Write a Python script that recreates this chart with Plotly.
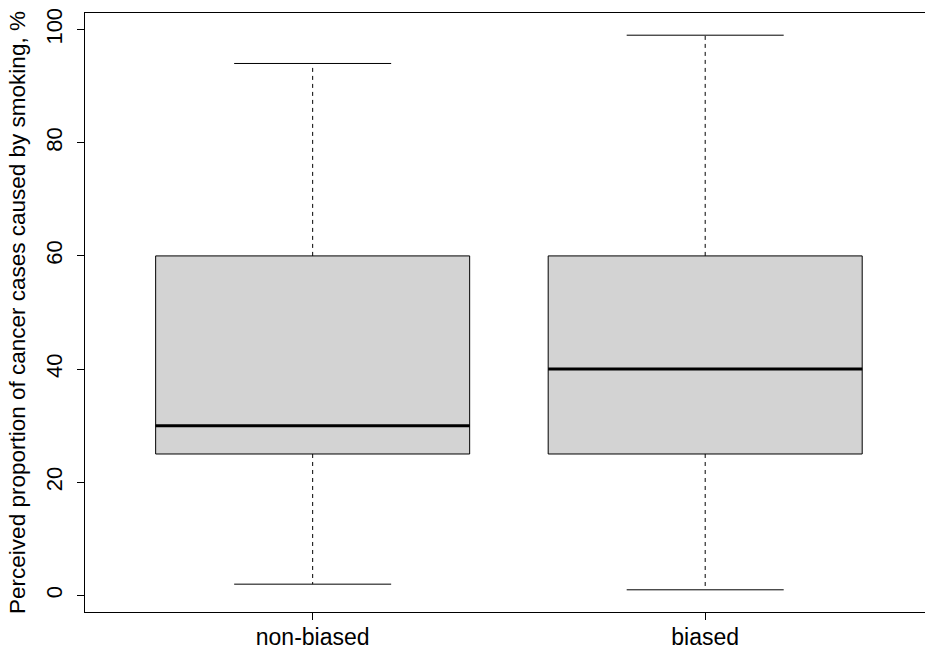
import plotly.graph_objects as go

categories = ["non-biased", "biased"]
positions = [1, 2]
lower_whisker = [2, 1]
q1 = [25, 25]
median = [30, 40]
q3 = [60, 60]
upper_whisker = [94, 99]
y_ticks = [0, 20, 40, 60, 80, 100]
y_title = "Perceived proportion of cancer cases caused by smoking, %"

BOX_W = 0.8
CAP_HALF = 0.2
FONT = "Liberation Sans, Arial, sans-serif"

fig = go.Figure()

for i, x in enumerate(positions):
    # whiskers (dashed)
    fig.add_trace(go.Scatter(
        x=[x, x, None, x, x],
        y=[q3[i], upper_whisker[i], None, q1[i], lower_whisker[i]],
        mode="lines", line=dict(color="black", width=1, dash="4px,4px"),
        hoverinfo="skip", showlegend=False))
    # caps
    fig.add_trace(go.Scatter(
        x=[x - CAP_HALF, x + CAP_HALF, None, x - CAP_HALF, x + CAP_HALF],
        y=[upper_whisker[i], upper_whisker[i], None, lower_whisker[i], lower_whisker[i]],
        mode="lines", line=dict(color="black", width=1),
        hoverinfo="skip", showlegend=False))
    # box
    fig.add_trace(go.Box(
        x=[x], q1=[q1[i]], median=[median[i]], q3=[q3[i]],
        lowerfence=[q1[i]], upperfence=[q3[i]],
        width=BOX_W, fillcolor="#D3D3D3", whiskerwidth=0,
        line=dict(color="black", width=1),
        boxpoints=False, hoverinfo="skip", showlegend=False))
    # thick median
    fig.add_trace(go.Scatter(
        x=[x - BOX_W / 2, x + BOX_W / 2], y=[median[i], median[i]],
        mode="lines", line=dict(color="black", width=3),
        hoverinfo="skip", showlegend=False))

fig.update_layout(
    width=925, height=648,
    margin=dict(l=85, r=0, t=13, b=36),
    plot_bgcolor="white", paper_bgcolor="white",
    boxmode="overlay",
    font=dict(family=FONT, size=22, color="black"),
    showlegend=False,
)
fig.update_xaxes(
    range=[0.42, 2.56], tickvals=positions, ticktext=categories,
    showgrid=False, zeroline=False, automargin=False,
    showline=True, linecolor="black", linewidth=1, mirror=True,
    ticks="outside", ticklen=7, tickcolor="black",
    tickfont=dict(size=23), ticklabelstandoff=-3,
)
fig.update_yaxes(
    range=[-2.92, 102.92], tickvals=y_ticks,
    showgrid=False, zeroline=False, automargin=False,
    showline=True, linecolor="black", linewidth=1, mirror=False,
    ticks="outside", ticklen=7, tickcolor="black",
    tickangle=-90, tickfont=dict(size=22), ticklabelstandoff=6,
    title=dict(text=y_title, font=dict(size=22.5), standoff=10),
)

fig.write_html(
    "out.html",
    config={"displayModeBar": False},
    post_script="document.body.style.margin='0';document.body.style.overflow='hidden';",
)
